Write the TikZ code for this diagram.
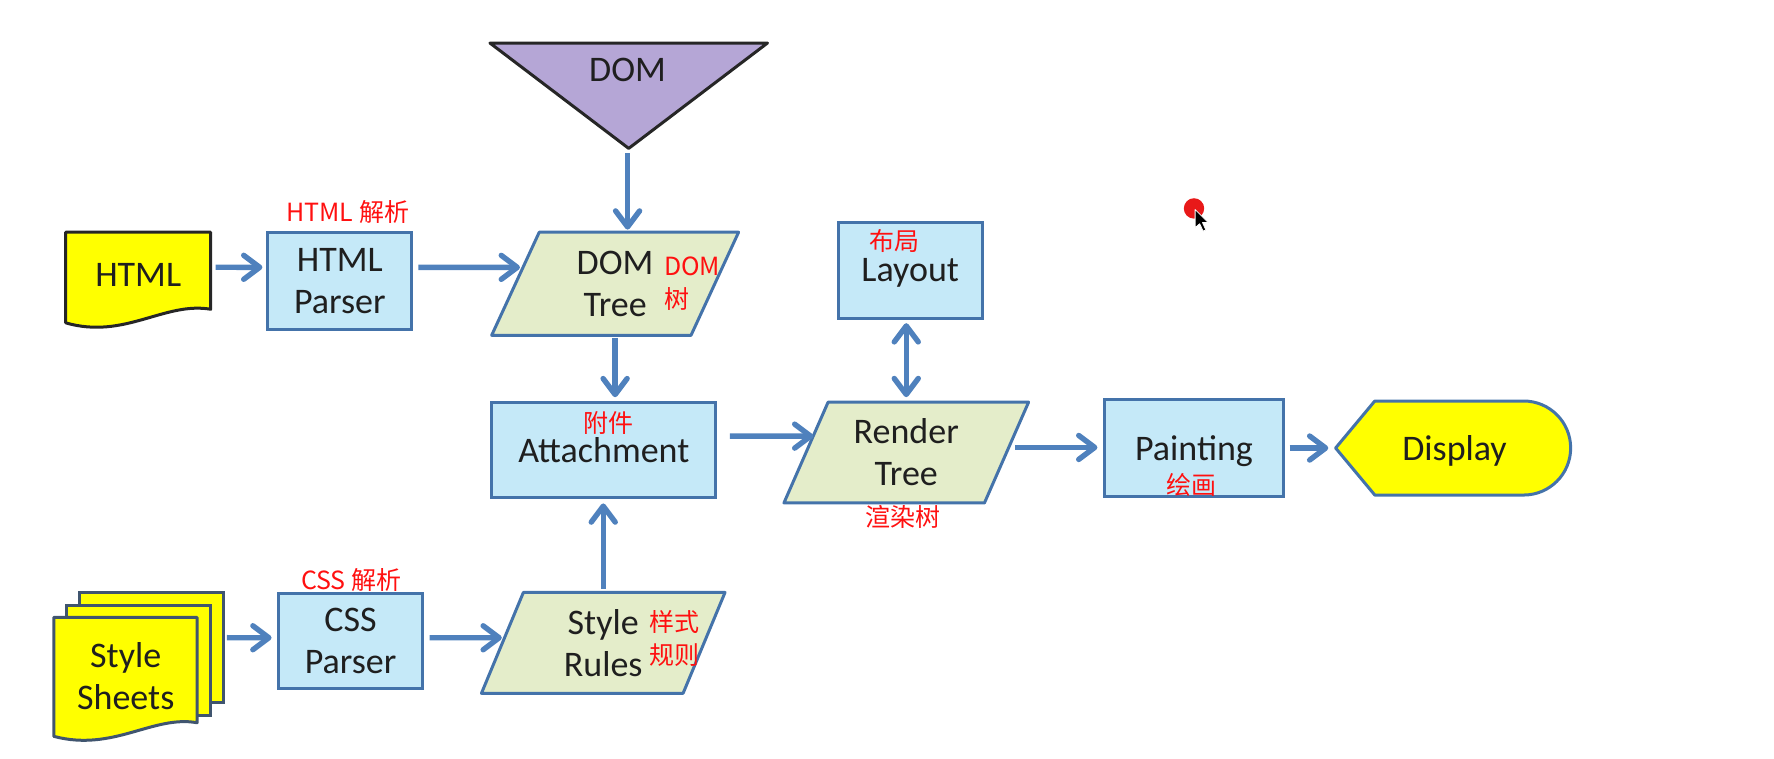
\documentclass[tikz,border=0pt]{standalone}
\usepackage{fontspec}
\setmainfont{Carlito}
\newfontfamily\cjk{Noto Sans CJK SC}
\usetikzlibrary{arrows.meta,calc}
\definecolor{arrowblue}{HTML}{4F81BD}
\definecolor{boxborder}{HTML}{4473AA}
\definecolor{boxfill}{HTML}{C5E9F8}
\definecolor{parafill}{HTML}{E4EDCA}
\definecolor{domfill}{HTML}{B5A6D6}
\definecolor{docyellow}{HTML}{FFFF00}
\definecolor{redlabel}{HTML}{FF1010}
\definecolor{sheetborder}{HTML}{40556F}
\newcommand\pxu{0.5664pt}
\begin{document}
\begin{tikzpicture}[x=0.5664pt,y=-0.5664pt,
  lbl/.style={font=\fontsize{18}{21}\selectfont, text=black!88, align=center, inner sep=0pt},
  box/.style={lbl, draw=boxborder, fill=boxfill, line width=1.5pt},
  ghost/.style={lbl, draw=none},
  nodepth/.style={text depth=0pt},
  shapeline/.style={draw=boxborder, line width=1.5pt, line join=round},
  redtxt/.style={font=\cjk\fontsize{12.5}{16.6}\selectfont, text=redlabel, inner sep=0pt, align=left},
  arr/.style={draw=arrowblue, line width=2.7pt, -{Straight Barb[length=8pt,width=12pt,round]}},
  darr/.style={draw=arrowblue, line width=2.7pt, {Straight Barb[length=8pt,width=12pt,round]}-{Straight Barb[length=8pt,width=12pt,round]}},
]
\useasboundingbox (0,0) rectangle (1566,670);

% ---------- shapes drawn directly ----------
% HTML document
\draw[line width=1.5pt, draw=black!85, fill=docyellow, line join=round]
  (58,205) -- (186,205) -- (186,273)
  .. controls (145,266) and (110,300) .. (58,285) -- cycle;
% DOM triangle
\draw[line width=1.5pt, draw=black!85, fill=domfill, line join=round]
  (432.5,38) -- (677.5,38) -- (555,131) -- cycle;
% DOM Tree parallelogram
\draw[shapeline, fill=parafill] (476,205) -- (652,205) -- (610,296) -- (434,296) -- cycle;
% Render Tree parallelogram
\draw[shapeline, fill=parafill] (731,355) -- (908,355) -- (869,444) -- (692,444) -- cycle;
% Style Rules parallelogram
\draw[shapeline, fill=parafill] (462,523) -- (640,523) -- (603,612) -- (425,612) -- cycle;
% Style sheets stack
\draw[line width=1.5pt, draw=sheetborder, fill=docyellow] (70.5,523) rectangle (197,620);
\draw[line width=1.5pt, draw=sheetborder, fill=docyellow] (59,534.5) rectangle (185.5,632);
\draw[line width=1.5pt, draw=sheetborder, fill=docyellow, line join=round]
  (47.5,545) -- (174,545) -- (174,638)
  .. controls (135,631) and (100,664) .. (47.5,650) -- cycle;
% Display
\draw[line width=1.5pt, draw=boxborder, fill=docyellow, line join=round]
  (1179,395.5) -- (1213.6,354) -- (1345,354)
  arc[start angle=-90, end angle=90, radius=41.5] -- (1213.6,437) -- cycle;

% ---------- nodes ----------
\node[ghost, minimum width={128*\pxu}] (htmldoc) at (122,243) {HTML};
\node[box, minimum width={127*\pxu}, minimum height={86*\pxu}] (htmlparser) at (300,248) {HTML\\Parser};
\node[ghost, minimum height={138*\pxu}] (dom) at (554,62) {DOM};
\node[ghost, minimum width={218*\pxu}, minimum height={91*\pxu}] (domtree) at (543,250.5) {DOM\\Tree};
\node[box, minimum width={198*\pxu}, minimum height={84*\pxu}] (attach) at (533,397) {Attachment};
\node[ghost, minimum width={216*\pxu}, minimum height={89*\pxu}] (render) at (800,399.5) {Render\\Tree};
\node[box, nodepth, minimum width={127*\pxu}, minimum height={85*\pxu}] (layout) at (803.5,238.5) {Layout};
\node[box, nodepth, minimum width={158*\pxu}, minimum height={85*\pxu}] (painting) at (1054,395.5) {Painting};
\node[ghost, nodepth, minimum width={208*\pxu}, minimum height={83*\pxu}] (display) at (1284,395.5) {Display};
\node[ghost, minimum width={215*\pxu}, minimum height={89*\pxu}] (stylerules) at (532.5,567.5) {Style\\Rules};
\node[box, minimum width={127*\pxu}, minimum height={84*\pxu}] (cssparser) at (309.5,566) {CSS\\Parser};
\node[ghost, minimum width={172*\pxu}] (sheets) at (111,597) {Style\\Sheets};

\coordinate (domtreein) at (459,236);
\coordinate (renderin) at (718,385);
\coordinate (renderout) at (896,395);
\coordinate (stylerulesin) at (443,563);

% ---------- red labels ----------
\node[redtxt] (lhtml) at (307,187) {HTML 解析};
\node[redtxt, anchor=west] (ldom) at (586,250.5) {DOM\\树};
\node[redtxt] (lattach) at (537,373) {附件};
\node[redtxt] (llayout) at (790,213) {布局};
\node[redtxt] (lrender) at (797,456) {渲染树};
\node[redtxt] (lpaint) at (1052,428) {绘画};
\node[redtxt] (lcss) at (310,512) {CSS 解析};
\node[redtxt, anchor=west] (lrules) at (573,563.5) {样式\\规则};

% ---------- connectors ----------
\draw[arr, shorten <=2.3pt, shorten >=2pt] ([yshift=4pt]htmldoc.east) -- ([yshift=6.8pt]htmlparser.west);
\draw[arr, shorten <=2.5pt] ([yshift=6.8pt]htmlparser.east) -- (domtreein);
\draw[arr, shorten <=2.3pt, shorten >=1.1pt] (dom.south) -- (dom.south |- domtree.north);
\draw[arr, shorten <=1.1pt, shorten >=1.7pt] (domtree.south) -- (domtree.south |- attach.north);
\draw[arr, shorten <=6.2pt] ([yshift=6.8pt]attach.east) -- (renderin);
\draw[darr, shorten <=1.7pt, shorten >=2.3pt] (layout.south -| render.north) -- (render.north);
\draw[arr, shorten >=2.8pt] (renderout) -- (renderout -| painting.west);
\draw[arr, shorten <=2.3pt, shorten >=4pt] (painting.east) -- (display.west);
\draw[arr, shorten <=1.7pt, shorten >=2.3pt] (stylerules.north) -- (stylerules.north |- attach.south);
\draw[arr, shorten <=1.7pt, shorten >=2.8pt] ([yshift=19.3pt]sheets.east) -- ([yshift=1.7pt]cssparser.west);
\draw[arr, shorten <=2.8pt] ([yshift=1.7pt]cssparser.east) -- (stylerulesin);

% ---------- pointer mark ----------
\fill[red!90!black, opacity=0.9] (1054,184) circle[radius=9];
\draw[fill=black, draw=white, line width=0.4pt, line join=round]
  (1055,185) -- (1055,201) -- (1059,197.5) -- (1062,204) -- (1064.5,203) -- (1061.5,196.5) -- (1066.5,196.5) -- cycle;
\end{tikzpicture}
\end{document}
